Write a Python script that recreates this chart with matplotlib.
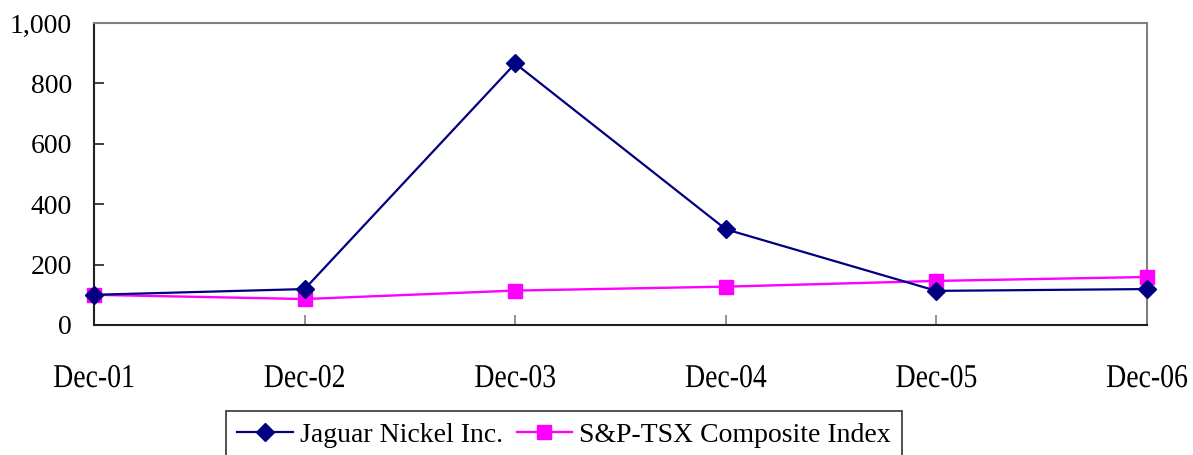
import matplotlib
matplotlib.use("Agg")
import matplotlib.pyplot as plt
from matplotlib.ticker import StrMethodFormatter
from matplotlib.patheffects import AbstractPathEffect
from matplotlib.transforms import Affine2D

categories = ["Dec-01", "Dec-02", "Dec-03", "Dec-04", "Dec-05", "Dec-06"]
jaguar = [100, 119, 866, 317, 113, 119]
sptsx = [100, 86, 114, 127, 146, 159]

plt.rcParams['font.family'] = ['Liberation Serif', 'DejaVu Serif']


class StretchY(AbstractPathEffect):
    """Stretch glyphs vertically about their baseline."""
    def __init__(self, sy=1.2):
        super().__init__()
        self.sy = sy

    def draw_path(self, renderer, gc, tpath, affine, rgbFace=None):
        renderer.draw_path(gc, tpath, Affine2D().scale(1, self.sy) + affine, rgbFace)


W, H = 1193, 455
fig = plt.figure(figsize=(W / 100, H / 100), dpi=100)
ax = fig.add_axes([94 / W, (H - 325) / H, (1147 - 94) / W, (325 - 23) / H])

x = list(range(len(categories)))
ax.plot(x, jaguar, color="#000080", lw=1.6, marker="D", ms=9,
        label="Jaguar Nickel Inc.", clip_on=False, zorder=4)
ax.plot(x, sptsx, color="#FF00FF", lw=1.7, marker="s", ms=10,
        label="S&P-TSX Composite Index", clip_on=False, zorder=3)

ax.set_xlim(0, len(categories) - 1)
ax.set_ylim(0, 1000)
ax.set_yticks(range(0, 1001, 200))
ax.yaxis.set_major_formatter(StrMethodFormatter("{x:,.0f}"))
ax.set_xticks(x)
ax.set_xticklabels(categories)

ax.tick_params(axis="y", direction="in", length=7, width=1.2, color="#202020",
               labelsize=20, pad=16)
ax.tick_params(axis="x", direction="in", length=7, width=1.2, color="#808080",
               labelsize=20, pad=31)
for lab in ax.get_xticklabels():
    lab.set_path_effects([StretchY(1.2)])

for s in ["left", "bottom"]:
    ax.spines[s].set_color("#202020")
    ax.spines[s].set_linewidth(1.5)
for s in ["top", "right"]:
    ax.spines[s].set_color("#808080")
    ax.spines[s].set_linewidth(1.5)

leg = fig.legend(loc="upper left", bbox_to_anchor=(226 / W, 1 - 411 / H),
                 ncol=2, fontsize=20, frameon=True, fancybox=False,
                 handlelength=2.0, handletextpad=0.25, columnspacing=0.5,
                 borderpad=0.4, borderaxespad=0)
leg.get_frame().set_edgecolor("black")
leg.get_frame().set_linewidth(1.2)

fig.savefig("out.png", dpi=100)
